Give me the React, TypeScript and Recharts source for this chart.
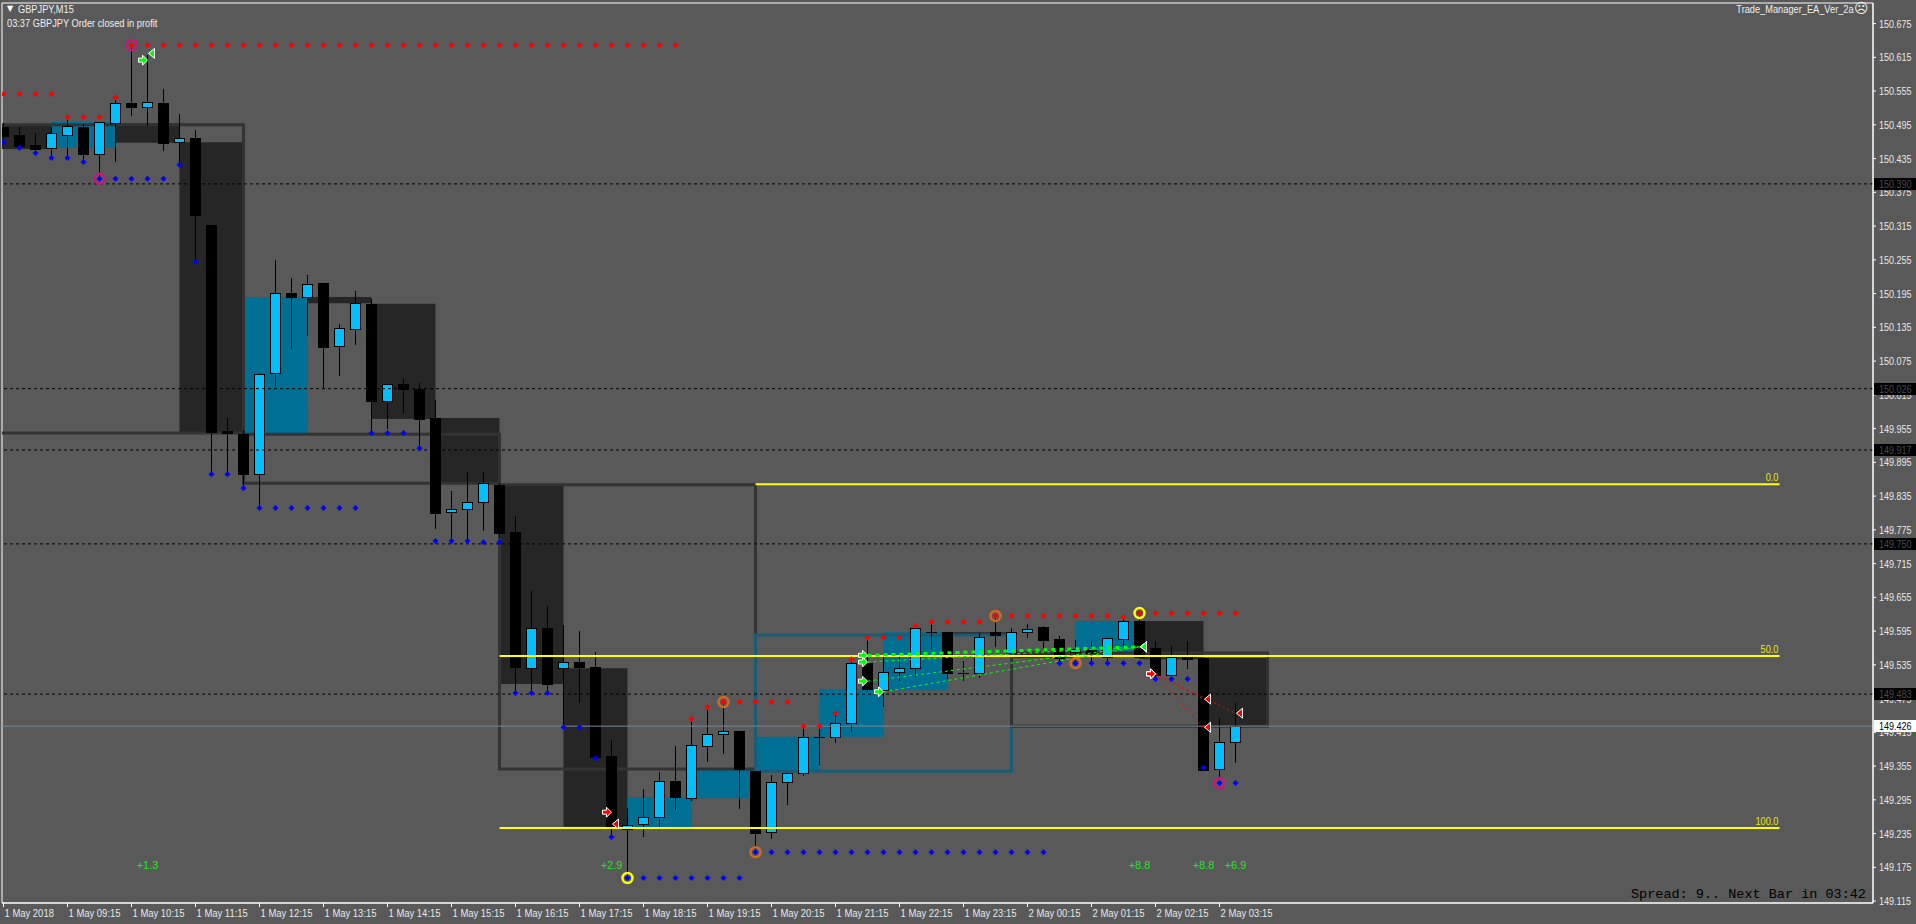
import React from "react";
import { Bar, ComposedChart, ReferenceArea, ReferenceLine, Scatter, XAxis, YAxis } from "recharts";

const BG = "#595959";
const AXIS_TEXT = "#e8e8e8";
const FONT = "'Liberation Sans', Arial, sans-serif";
const MONO = "'Liberation Mono', 'DejaVu Sans Mono', monospace";
const NARROW = 0.84; // squeeze the sans font to look like the terminal's narrow face
const BULL = "#00bfff";
const BEAR = "#000000";
const H1_BULL = "#006f94";
const H1_BEAR = "#262626";
const H4_BULL = "#1b5c75";
const H4_BEAR = "#333333";

// GBPJPY M15. index -1 = 1 May 08:00 (left of the frame), 0 = 08:15 ... 77 = 2 May 03:30
const firstBar = -1;
const opens = [
  150.495, 150.491, 150.477, 150.459, 150.454, 150.477, 150.491, 150.443,
  150.498, 150.534, 150.527, 150.534, 150.464, 150.472, 150.317, 149.951,
  149.945, 149.874, 150.054, 150.196, 150.189, 150.214, 150.102, 150.132,
  150.177, 150.004, 150.034, 150.025, 149.974, 149.807, 149.812, 149.824,
  149.855, 149.771, 149.529, 149.6, 149.529, 149.54, 149.531, 149.373,
  149.243, 149.252, 149.264, 149.328, 149.298, 149.391, 149.412, 149.417,
  149.346, 149.238, 149.327, 149.343, 149.407, 149.407, 149.432, 149.538,
  149.49, 149.522, 149.529, 149.593, 149.593, 149.521, 149.521, 149.593,
  149.556, 149.593, 149.602, 149.581, 149.558, 149.563, 149.549, 149.581,
  149.613, 149.565, 149.517, 149.549, 149.547, 149.35, 149.398,
];
const highs = [
  150.505, 150.498, 150.491, 150.48, 150.491, 150.512, 150.496, 150.5,
  150.539, 150.637, 150.619, 150.559, 150.514, 150.486, 150.317, 149.974,
  149.952, 150.054, 150.255, 150.223, 150.228, 150.214, 150.141, 150.2,
  150.185, 150.034, 150.043, 150.036, 150.006, 149.844, 149.878, 149.878,
  149.858, 149.8, 149.666, 149.64, 149.606, 149.595, 149.558, 149.401,
  149.281, 149.314, 149.344, 149.391, 149.437, 149.458, 149.467, 149.417,
  149.346, 149.339, 149.344, 149.426, 149.428, 149.449, 149.545, 149.584,
  149.549, 149.549, 149.606, 149.615, 149.593, 149.542, 149.592, 149.624,
  149.6, 149.608, 149.604, 149.586, 149.579, 149.577, 149.583, 149.62,
  149.627, 149.577, 149.568, 149.577, 149.547, 149.441, 149.467,
];
const lows = [
  150.486, 150.472, 150.454, 150.445, 150.436, 150.441, 150.427, 150.397,
  150.431, 150.512, 150.495, 150.45, 150.424, 150.251, 149.874, 149.874,
  149.849, 149.814, 150.032, 150.098, 150.121, 150.027, 150.05, 150.105,
  149.949, 149.956, 149.984, 149.92, 149.778, 149.757, 149.759, 149.775,
  149.762, 149.485, 149.49, 149.49, 149.424, 149.469, 149.369, 149.229,
  149.158, 149.231, 149.247, 149.279, 149.295, 149.364, 149.378, 149.281,
  149.202, 149.227, 149.288, 149.339, 149.359, 149.398, 149.417, 149.49,
  149.462, 149.508, 149.515, 149.565, 149.512, 149.508, 149.513, 149.568,
  149.553, 149.584, 149.563, 149.538, 149.536, 149.54, 149.54, 149.567,
  149.549, 149.51, 149.517, 149.529, 149.348, 149.334, 149.362,
];
const closes = [
  150.491, 150.475, 150.457, 150.452, 150.48, 150.493, 150.443, 150.5,
  150.534, 150.527, 150.536, 150.463, 150.472, 150.335, 149.949, 149.947,
  149.874, 150.052, 150.196, 150.189, 150.212, 150.1, 150.134, 150.178,
  150.004, 150.034, 150.025, 149.972, 149.805, 149.812, 149.824, 149.858,
  149.769, 149.531, 149.6, 149.501, 149.54, 149.531, 149.371, 149.247,
  149.25, 149.264, 149.328, 149.3, 149.393, 149.412, 149.417, 149.35,
  149.236, 149.327, 149.343, 149.407, 149.407, 149.432, 149.538, 149.492,
  149.522, 149.529, 149.6, 149.593, 149.521, 149.521, 149.584, 149.588,
  149.593, 149.599, 149.579, 149.547, 149.563, 149.556, 149.583, 149.613,
  149.549, 149.517, 149.549, 149.545, 149.348, 149.398, 149.426,
];

// indicator dots, one per bar from index 0
const upperDots = [
  150.55, 150.55, 150.55, 150.55, 150.509, 150.509, 150.509, 150.544,
  150.637, 150.637, 150.637, 150.637, 150.637, 150.637, 150.637, 150.637,
  150.637, 150.637, 150.637, 150.637, 150.637, 150.637, 150.637, 150.637,
  150.637, 150.637, 150.637, 150.637, 150.637, 150.637, 150.637, 150.637,
  150.637, 150.637, 150.637, 150.637, 150.637, 150.637, 150.637, 150.637,
  150.637, 150.637, 150.637, 149.439, 149.46, 149.469, 149.469, 149.469,
  149.469, 149.469, 149.426, 149.426, 149.449, 149.545, 149.583, 149.583,
  149.583, 149.604, 149.611, 149.611, 149.611, 149.611, 149.622, 149.622,
  149.622, 149.622, 149.622, 149.622, 149.622, 149.622, 149.62, 149.627,
  149.627, 149.627, 149.627, 149.627, 149.627, 149.627,
];
const lowerDots = [
  150.464, 150.454, 150.445, 150.436, 150.436, 150.429, 150.399, 150.399,
  150.399, 150.399, 150.399, 150.424, 150.251, 149.874, 149.874, 149.849,
  149.814, 149.814, 149.814, 149.814, 149.814, 149.814, 149.814, 149.947,
  149.947, 149.947, 149.92, 149.755, 149.755, 149.755, 149.753, 149.753,
  149.485, 149.485, 149.485, 149.424, 149.424, 149.369, 149.229, 149.156,
  149.156, 149.156, 149.156, 149.156, 149.156, 149.156, 149.156, 149.202,
  149.202, 149.202, 149.202, 149.202, 149.202, 149.202, 149.202, 149.202,
  149.202, 149.202, 149.202, 149.202, 149.202, 149.202, 149.202, 149.202,
  149.202, 149.202, 149.538, 149.538, 149.538, 149.538, 149.538, 149.538,
  149.51, 149.51, 149.51, 149.352, 149.325, 149.325,
];

const pinkRings = [{ i: 6, p: 150.399 }, { i: 8, p: 150.637 }, { i: 76, p: 149.325 }];
const orangeRings = [{ i: 45, p: 149.469 }, { i: 47, p: 149.202 }, { i: 62, p: 149.622 }, { i: 67, p: 149.538 }];
const yellowRings = [{ i: 39, p: 149.156 }, { i: 71, p: 149.627 }];

const buyTrades = [
  { i1: 9, p1: 150.61, i2: 9, p2: 150.622 },
  { i1: 54, p1: 149.552, i2: 71, p2: 149.567 },
  { i1: 54, p1: 149.54, i2: 71, p2: 149.567 },
  { i1: 54, p1: 149.506, i2: 71, p2: 149.567 },
  { i1: 55, p1: 149.487, i2: 71, p2: 149.567 },
];
const sellTrades = [
  { i1: 38, p1: 149.273, i2: 38, p2: 149.252 },
  { i1: 72, p1: 149.519, i2: 75, p2: 149.474 },
  { i1: 72, p1: 149.519, i2: 75, p2: 149.424 },
  { i1: 72, p1: 149.519, i2: 77, p2: 149.449 },
];

const profitBars = [9, 38, 71, 75, 77];
const profitTexts = ["+1.3", "+2.9", "+8.8", "+8.8", "+6.9"];
const profitRow = 149.179;

const fibHigh = 149.856;
const fibLow = 149.245;
const fibLevels = [0, 50, 100];
const fibStartBars = [47, 31, 31];
const fibEndBar = 111;

const levelLines = [150.39, 150.026, 149.917, 149.75, 149.483];
const bidPrice = 149.426;

const timeTicks = [0, 4, 8, 12, 16, 20, 24, 28, 32, 36, 40, 44, 48, 52, 56, 60, 64, 68, 72, 76];
const timeLabels = [
  "1 May 2018", "1 May 09:15", "1 May 10:15", "1 May 11:15", "1 May 12:15", "1 May 13:15",
  "1 May 14:15", "1 May 15:15", "1 May 16:15", "1 May 17:15", "1 May 18:15", "1 May 19:15",
  "1 May 20:15", "1 May 21:15", "1 May 22:15", "1 May 23:15", "2 May 00:15", "2 May 01:15",
  "2 May 02:15", "2 May 03:15",
];
const priceTicks = [
  149.115, 149.175, 149.235, 149.295, 149.355, 149.415, 149.475, 149.535, 149.595,
  149.655, 149.715, 149.775, 149.835, 149.895, 149.955, 150.015, 150.075, 150.135,
  150.195, 150.255, 150.315, 150.375, 150.435, 150.495, 150.555, 150.615, 150.675,
];
// level and bid tags go last so they paint over the ordinary labels
const axisTicks = [...priceTicks, ...levelLines, bidPrice];

const X_DOMAIN: [number, number] = [-0.09375, 116.84375];
const Y_DOMAIN: [number, number] = [149.1116, 150.7116];

const candles = opens.map((o, k) => ({
  i: firstBar + k,
  open: o,
  high: highs[k],
  low: lows[k],
  close: closes[k],
  range: [lows[k], highs[k]],
}));

// higher timeframe bodies (H1 filled, H4 outlined) built from the M15 bars
function groupBars(size: number) {
  const out: { x1: number; x2: number; o: number; c: number }[] = [];
  for (let s = 0; s < candles.length; s += size) {
    const g = candles.slice(s, s + size);
    out.push({ x1: g[0].i, x2: g[0].i + size, o: g[0].open, c: g[g.length - 1].close });
  }
  return out;
}
const h1Boxes = groupBars(4);
const h4Boxes = groupBars(16);

const upperData = upperDots.map((p, i) => ({ i, p }));
const lowerData = lowerDots.map((p, i) => ({ i, p }));
const buyEntryData = buyTrades.map((t) => ({ i: t.i1, p: t.p1 }));
const buyExitData = buyTrades.map((t) => ({ i: t.i2, p: t.p2 }));
const sellEntryData = sellTrades.map((t) => ({ i: t.i1, p: t.p1 }));
const sellExitData = sellTrades.map((t) => ({ i: t.i2, p: t.p2 }));
const profitData = profitBars.map((i, k) => ({ i, p: profitRow, text: profitTexts[k] }));
const fibData = fibLevels.map((lvl) => ({
  i: fibEndBar,
  p: fibHigh - ((fibHigh - fibLow) * lvl) / 100,
  text: lvl.toFixed(1),
}));

const Candle = (props: any) => {
  const { x, y, width, height, payload } = props;
  if (payload == null || width == null) return null;
  const top = Math.min(y, y + height);
  const h = Math.abs(height);
  const { open, close, high, low } = payload;
  const k = h / (high - low || 1);
  const py = (v: number) => top + (high - v) * k;
  const cx = x + width / 2;
  const wx = Math.floor(cx) + 0.5;
  const bt = Math.round(py(Math.max(open, close)));
  const bb = Math.round(py(Math.min(open, close)));
  const bx = Math.round(x);
  return (
    <g shapeRendering="crispEdges">
      <line x1={wx} x2={wx} y1={Math.round(top)} y2={Math.round(top + h) + 1} stroke="#000" strokeWidth={1} />
      {bb - bt < 1 ? (
        <line x1={bx} x2={bx + width} y1={bt + 0.5} y2={bt + 0.5} stroke="#000" strokeWidth={1} />
      ) : (
        <rect x={bx + 0.5} y={bt + 0.5} width={width - 1} height={bb - bt} fill={close > open ? BULL : BEAR} stroke="#000" strokeWidth={1} />
      )}
    </g>
  );
};

const diamond = (color: string) => (p: any) => (
  <polygon
    points={`${p.cx},${p.cy - 3} ${p.cx + 3},${p.cy} ${p.cx},${p.cy + 3} ${p.cx - 3},${p.cy}`}
    fill={color}
  />
);
const ring = (color: string) => (p: any) => (
  <circle cx={p.cx} cy={p.cy} r={5} fill="none" stroke={color} strokeWidth={2.5} />
);
const entryArrow = (color: string) => (p: any) => {
  const { cx, cy } = p;
  return (
    <polygon
      points={`${cx - 9},${cy - 2} ${cx - 5},${cy - 2} ${cx - 5},${cy - 5} ${cx},${cy} ${cx - 5},${cy + 5} ${cx - 5},${cy + 2} ${cx - 9},${cy + 2}`}
      fill={color}
      stroke="#fff"
      strokeWidth={1}
    />
  );
};
const exitArrow = (color: string) => (p: any) => {
  const { cx, cy } = p;
  return (
    <polygon points={`${cx + 1},${cy} ${cx + 7},${cy - 5} ${cx + 7},${cy + 5}`} fill={color} stroke="#fff" strokeWidth={1} />
  );
};
const profitText = (p: any) => (
  <text x={p.cx} y={p.cy + 4} textAnchor="middle" fill="#22e622" fontSize={11} fontFamily={FONT}>
    {p.payload.text}
  </text>
);
const fibText = (p: any) => (
  <text
    transform={`translate(${p.cx - 1},${p.cy - 3}) scale(${NARROW},1)`}
    textAnchor="end"
    fill="#e8e800"
    fontSize={11}
    fontFamily={FONT}
  >
    {p.payload.text}
  </text>
);

const TimeTick = (props: any) => {
  const { x, y, payload } = props;
  const k = timeTicks.indexOf(payload.value);
  return (
    <text transform={`translate(${x + 1},${y + 8}) scale(0.86,1)`} fill={AXIS_TEXT} fontSize={11} fontFamily={FONT} textAnchor="start">
      {timeLabels[k]}
    </text>
  );
};
const PriceTick = (props: any) => {
  const { x, y, payload, index } = props;
  const v = Number(payload.value);
  const isTag = index >= priceTicks.length;
  if (isTag) {
    const isBid = v === bidPrice;
    const yy = Math.round(y);
    return (
      <g shapeRendering="crispEdges">
        <rect x={x - 4} y={yy - 6} width={43} height={12} fill={isBid ? "#fff" : "#000"} />
        <text
          transform={`translate(${x + 1},${yy + 4}) scale(0.82,1)`}
          fill={isBid ? "#000" : "#4a4a4a"}
          fontSize={11}
          fontFamily={FONT}
        >
          {v.toFixed(3)}
        </text>
      </g>
    );
  }
  return (
    <text transform={`translate(${x + 1},${y + 4}) scale(0.82,1)`} fill={AXIS_TEXT} fontSize={11} fontFamily={FONT} textAnchor="start">
      {v.toFixed(3)}
    </text>
  );
};

const headerText = {
  position: "absolute" as const,
  fontSize: 11,
  color: "#f0f0f0",
  fontFamily: FONT,
  lineHeight: 1,
  whiteSpace: "pre" as const,
  transform: `scaleX(${NARROW})`,
};

export default function App() {
  return (
    <div style={{ position: "fixed", left: 0, top: 0, width: 1916, height: 924, background: BG, overflow: "hidden" }}>
      <ComposedChart width={1916} height={924} data={candles} margin={{ top: 3, right: 0, bottom: 0, left: 2 }}>
        <XAxis
          dataKey="i"
          type="number"
          domain={X_DOMAIN}
          allowDataOverflow
          ticks={timeTicks}
          interval={0}
          height={21}
          tickSize={4}
          axisLine={{ stroke: "#fff" }}
          tickLine={{ stroke: "#fff" }}
          tick={<TimeTick />}
        />
        <YAxis
          orientation="right"
          type="number"
          domain={Y_DOMAIN}
          allowDataOverflow
          ticks={axisTicks}
          interval={0}
          width={43}
          tickSize={3}
          axisLine={{ stroke: "#fff" }}
          tickLine={{ stroke: "#fff" }}
          tick={<PriceTick />}
        />

        <ReferenceArea x1={X_DOMAIN[0]} x2={X_DOMAIN[1]} y1={Y_DOMAIN[0]} y2={Y_DOMAIN[1]} fill="none" stroke="#fff" strokeWidth={1} ifOverflow="visible" />

        {h1Boxes.map((b, k) => (
          <ReferenceArea
            key={"h1" + k}
            x1={b.x1}
            x2={b.x2}
            y1={Math.min(b.o, b.c)}
            y2={Math.max(b.o, b.c)}
            fill={b.c > b.o ? H1_BULL : H1_BEAR}
            fillOpacity={1}
            stroke="none"
            ifOverflow="hidden"
          />
        ))}
        {h4Boxes.map((b, k) => (
          <ReferenceArea
            key={"h4" + k}
            x1={b.x1}
            x2={b.x2}
            y1={Math.min(b.o, b.c)}
            y2={Math.max(b.o, b.c)}
            fill="none"
            stroke={b.c > b.o ? H4_BULL : H4_BEAR}
            strokeWidth={3}
            ifOverflow="hidden"
          />
        ))}

        {levelLines.map((p) => (
          <ReferenceLine key={"lv" + p} y={p} stroke="#000" strokeDasharray="3 3" />
        ))}
        <ReferenceLine y={bidPrice} stroke="#7a8896" />

        {fibLevels.map((lvl, k) => {
          const p = fibHigh - ((fibHigh - fibLow) * lvl) / 100;
          return (
            <ReferenceLine
              key={"fib" + lvl}
              segment={[{ x: fibStartBars[k], y: p }, { x: fibEndBar, y: p }]}
              stroke="#ffff00"
              strokeWidth={2}
            />
          );
        })}

        <Bar dataKey="range" barSize={11} shape={Candle} isAnimationActive={false} />

        {buyTrades
          .filter((t) => t.i1 !== t.i2)
          .map((t, k) => (
            <ReferenceLine
              key={"bt" + k}
              segment={[{ x: t.i1, y: t.p1 }, { x: t.i2, y: t.p2 }]}
              stroke="#00ff00"
              strokeWidth={k === 0 ? 3 : 1}
              strokeDasharray={k === 0 ? "4 4" : "3 3"}
            />
          ))}
        {sellTrades
          .filter((t) => t.i1 !== t.i2)
          .map((t, k) => (
            <ReferenceLine
              key={"st" + k}
              segment={[{ x: t.i1, y: t.p1 }, { x: t.i2, y: t.p2 }]}
              stroke="#ff0000"
              strokeWidth={1}
              strokeDasharray="2 3"
            />
          ))}

        <Scatter data={upperData} dataKey="p" shape={diamond("#ff0000")} isAnimationActive={false} />
        <Scatter data={lowerData} dataKey="p" shape={diamond("#0000ff")} isAnimationActive={false} />
        <Scatter data={pinkRings} dataKey="p" shape={ring("#c8177c")} isAnimationActive={false} />
        <Scatter data={orangeRings} dataKey="p" shape={ring("#d2691e")} isAnimationActive={false} />
        <Scatter data={yellowRings} dataKey="p" shape={ring("#ffff00")} isAnimationActive={false} />
        <Scatter data={buyEntryData} dataKey="p" shape={entryArrow("#00ff00")} isAnimationActive={false} />
        <Scatter data={buyExitData} dataKey="p" shape={exitArrow("#00ff00")} isAnimationActive={false} />
        <Scatter data={sellEntryData} dataKey="p" shape={entryArrow("#ff0000")} isAnimationActive={false} />
        <Scatter data={sellExitData} dataKey="p" shape={exitArrow("#ff0000")} isAnimationActive={false} />
        <Scatter data={profitData} dataKey="p" shape={profitText} isAnimationActive={false} />
        <Scatter data={fibData} dataKey="p" shape={fibText} isAnimationActive={false} />
      </ComposedChart>

      <div style={{ position: "absolute", left: 7, top: 5, fontSize: 8, color: "#fff", fontFamily: "'DejaVu Sans', sans-serif", lineHeight: 1 }}>▼</div>
      <div style={{ ...headerText, left: 18, top: 4, transformOrigin: "left top" }}>GBPJPY,M15</div>
      <div style={{ ...headerText, left: 7, top: 18, transformOrigin: "left top" }}>03:37 GBPJPY Order closed in profit</div>
      <div style={{ ...headerText, right: 62, top: 4, transformOrigin: "right top" }}>Trade_Manager_EA_Ver_2a</div>
      <div style={{ position: "absolute", left: 1854, top: 1, fontSize: 14, color: "#f0f0f0", fontFamily: "'DejaVu Sans', sans-serif", lineHeight: 1 }}>☹</div>
      <div style={{ position: "absolute", left: 1631, top: 888, fontSize: 13.5, color: "#000", fontFamily: MONO, lineHeight: 1, whiteSpace: "pre" }}>
        Spread: 9.. Next Bar in 03:42
      </div>
    </div>
  );
}
